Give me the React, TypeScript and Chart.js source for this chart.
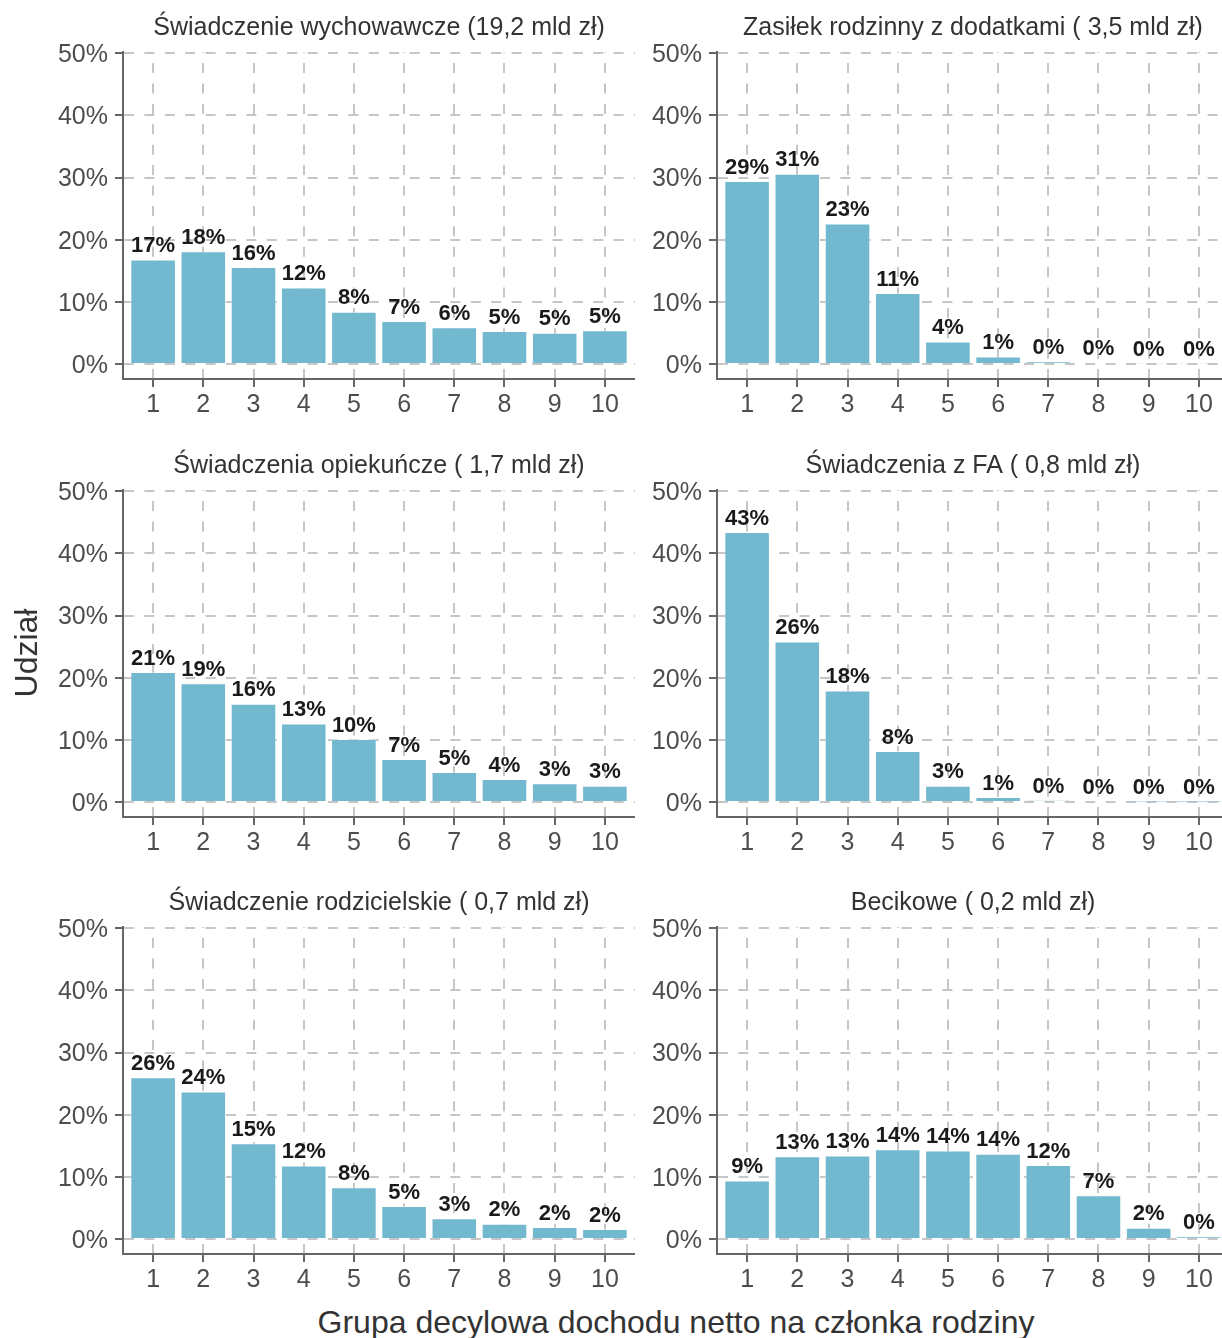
import React, { useEffect, useRef } from 'react';
import { Chart, registerables } from 'chart.js';

Chart.register(...registerables);

// ---------- data ----------
const deciles = [1, 2, 3, 4, 5, 6, 7, 8, 9, 10];
const yTickValues = [0, 10, 20, 30, 40, 50];

const swiadczenieWychowawcze = [16.8, 18.1, 15.6, 12.3, 8.4, 6.9, 5.9, 5.3, 5.0, 5.4];
const zasilekRodzinny = [29.4, 30.6, 22.6, 11.4, 3.6, 1.2, 0.4, 0.2, 0.1, 0.1];
const swiadczeniaOpiekuncze = [20.9, 19.1, 15.8, 12.6, 10.1, 6.9, 4.8, 3.7, 3.0, 2.6];
const swiadczeniaFA = [43.4, 25.8, 17.9, 8.2, 2.6, 0.8, 0.3, 0.15, 0.05, 0.02];
const swiadczenieRodzicielskie = [26.0, 23.7, 15.4, 11.8, 8.3, 5.3, 3.3, 2.45, 1.9, 1.6];
const becikowe = [9.4, 13.3, 13.4, 14.4, 14.2, 13.7, 11.9, 7.0, 1.8, 0.4];

const panelTitles = [
  'Świadczenie wychowawcze (19,2 mld zł)',
  'Zasiłek rodzinny z dodatkami ( 3,5 mld zł)',
  'Świadczenia opiekuńcze ( 1,7 mld zł)',
  'Świadczenia z FA ( 0,8 mld zł)',
  'Świadczenie rodzicielskie ( 0,7 mld zł)',
  'Becikowe ( 0,2 mld zł)',
];
const panelValues = [
  swiadczenieWychowawcze,
  zasilekRodzinny,
  swiadczeniaOpiekuncze,
  swiadczeniaFA,
  swiadczenieRodzicielskie,
  becikowe,
];

const yAxisTitle = 'Udział';
const xAxisTitle = 'Grupa decylowa dochodu netto na członka rodziny';

// ---------- styles / layout ----------
const FONT = "'Liberation Sans', Arial, Helvetica, sans-serif";
const BAR_COLOR = '#72b9cf';
const GRID_COLOR = '#c6c6c6';
const AXIS_COLOR = '#666666';
const TICK_TEXT = '#4d4d4d';
const TITLE_TEXT = '#333333';
const LABEL_TEXT = '#1a1a1a';

const COL_AREA_LEFT = [123, 717];
const ROW_AREA_TOP = [52, 490, 927];
const AREA_W = 512;
const AREA_H = 327;
const Y_AXIS_W = 80;
const PAD_TOP = 45;
const X_AXIS_H = 50;

const valueLabels = {
  id: 'valueLabels',
  afterDatasetsDraw(chart: any) {
    const { ctx } = chart;
    const meta = chart.getDatasetMeta(0);
    const raw = chart.data.datasets[0].data as { x: number; y: number }[];
    ctx.save();
    ctx.font = `bold 22px ${FONT}`;
    ctx.fillStyle = LABEL_TEXT;
    ctx.textAlign = 'center';
    ctx.textBaseline = 'alphabetic';
    meta.data.forEach((el: any, i: number) => {
      ctx.fillText(`${Math.round(raw[i].y)}%`, el.x, el.y - 7.5);
    });
    ctx.restore();
  },
};

const panelTitle = {
  id: 'panelTitle',
  afterDraw(chart: any, _args: any, opts: any) {
    const { ctx, chartArea } = chart;
    ctx.save();
    ctx.font = `25px ${FONT}`;
    ctx.fillStyle = TITLE_TEXT;
    ctx.textAlign = 'center';
    ctx.textBaseline = 'alphabetic';
    ctx.fillText(opts.text, (chartArea.left + chartArea.right) / 2, chartArea.top - 17.5);
    ctx.restore();
  },
};

function Panel({ title, values, areaLeft, areaTop }: { title: string; values: number[]; areaLeft: number; areaTop: number }) {
  const ref = useRef<HTMLCanvasElement | null>(null);
  useEffect(() => {
    if (!ref.current) return;
    const chart = new Chart(ref.current, {
      type: 'bar',
      data: {
        datasets: [
          {
            data: deciles.map((d, i) => ({ x: d, y: values[i] })),
            backgroundColor: BAR_COLOR,
            borderColor: 'rgba(255,255,255,0.6)',
            borderWidth: 0.8,
            categoryPercentage: 1,
            barPercentage: 0.9,
          } as any,
        ],
      },
      options: {
        animation: false,
        responsive: false,
        maintainAspectRatio: false,
        layout: { padding: { top: PAD_TOP, left: 0, right: 0, bottom: 0 } },
        plugins: {
          legend: { display: false },
          tooltip: { enabled: false },
          title: { display: false },
          panelTitle: { text: title },
        } as any,
        scales: {
          x: {
            type: 'linear',
            min: 0.4,
            max: 10.6,
            offset: false,
            afterBuildTicks: (s: any) => {
              s.ticks = deciles.map((v) => ({ value: v }));
            },
            afterFit: (s: any) => {
              s.height = X_AXIS_H;
            },
            grid: {
              offset: false,
              color: GRID_COLOR,
              lineWidth: 2,
              drawTicks: true,
              tickLength: 8,
              tickColor: AXIS_COLOR,
              tickWidth: 2,
              tickBorderDash: [],
            },
            border: { display: true, color: AXIS_COLOR, width: 2, dash: [10, 10.4], dashOffset: 9.3 },
            ticks: {
              color: TICK_TEXT,
              font: { family: FONT, size: 25 },
              padding: 3,
              autoSkip: false,
              maxRotation: 0,
              callback: (v: any) => String(v),
            },
          },
          y: {
            type: 'linear',
            min: -2.4,
            max: 50.2,
            afterBuildTicks: (s: any) => {
              s.ticks = yTickValues.map((v) => ({ value: v }));
            },
            afterFit: (s: any) => {
              s.width = Y_AXIS_W;
            },
            grid: {
              color: GRID_COLOR,
              lineWidth: 2,
              drawTicks: true,
              tickLength: 8,
              tickColor: AXIS_COLOR,
              tickWidth: 2,
              tickBorderDash: [],
            },
            border: { display: true, color: AXIS_COLOR, width: 2, dash: [10, 10.4], dashOffset: 0 },
            ticks: {
              color: TICK_TEXT,
              font: { family: FONT, size: 25 },
              padding: 7,
              labelOffset: 2,
              autoSkip: false,
              callback: (v: any) => `${v}%`,
            },
          },
        } as any,
      },
      plugins: [valueLabels, panelTitle],
    });
    return () => chart.destroy();
  }, [title, values]);

  const w = Y_AXIS_W + AREA_W;
  const h = PAD_TOP + AREA_H + X_AXIS_H;
  return (
    <canvas
      ref={ref}
      width={w}
      height={h}
      style={{
        position: 'absolute',
        left: areaLeft - Y_AXIS_W,
        top: areaTop - PAD_TOP,
        width: w,
        height: h,
        display: 'block',
      }}
    />
  );
}

export default function App() {
  return (
    <div
      style={{
        position: 'absolute',
        left: 0,
        top: 0,
        width: 1222,
        height: 1338,
        overflow: 'hidden',
        background: '#ffffff',
        fontFamily: FONT,
      }}
    >
      {panelTitles.map((t, i) => (
        <Panel
          key={t}
          title={t}
          values={panelValues[i]}
          areaLeft={COL_AREA_LEFT[i % 2]}
          areaTop={ROW_AREA_TOP[Math.floor(i / 2)]}
        />
      ))}
      <div
        style={{
          position: 'absolute',
          left: 26.4 - 100,
          top: 653 - 16,
          width: 200,
          height: 32,
          lineHeight: '32px',
          fontSize: 32,
          color: TITLE_TEXT,
          textAlign: 'center',
          transform: 'rotate(-90deg)',
          whiteSpace: 'nowrap',
        }}
      >
        {yAxisTitle}
      </div>
      <div
        style={{
          position: 'absolute',
          left: 176,
          top: 1306,
          width: 1000,
          height: 32,
          lineHeight: '32px',
          fontSize: 32,
          color: TITLE_TEXT,
          textAlign: 'center',
          whiteSpace: 'nowrap',
        }}
      >
        {xAxisTitle}
      </div>
    </div>
  );
}
